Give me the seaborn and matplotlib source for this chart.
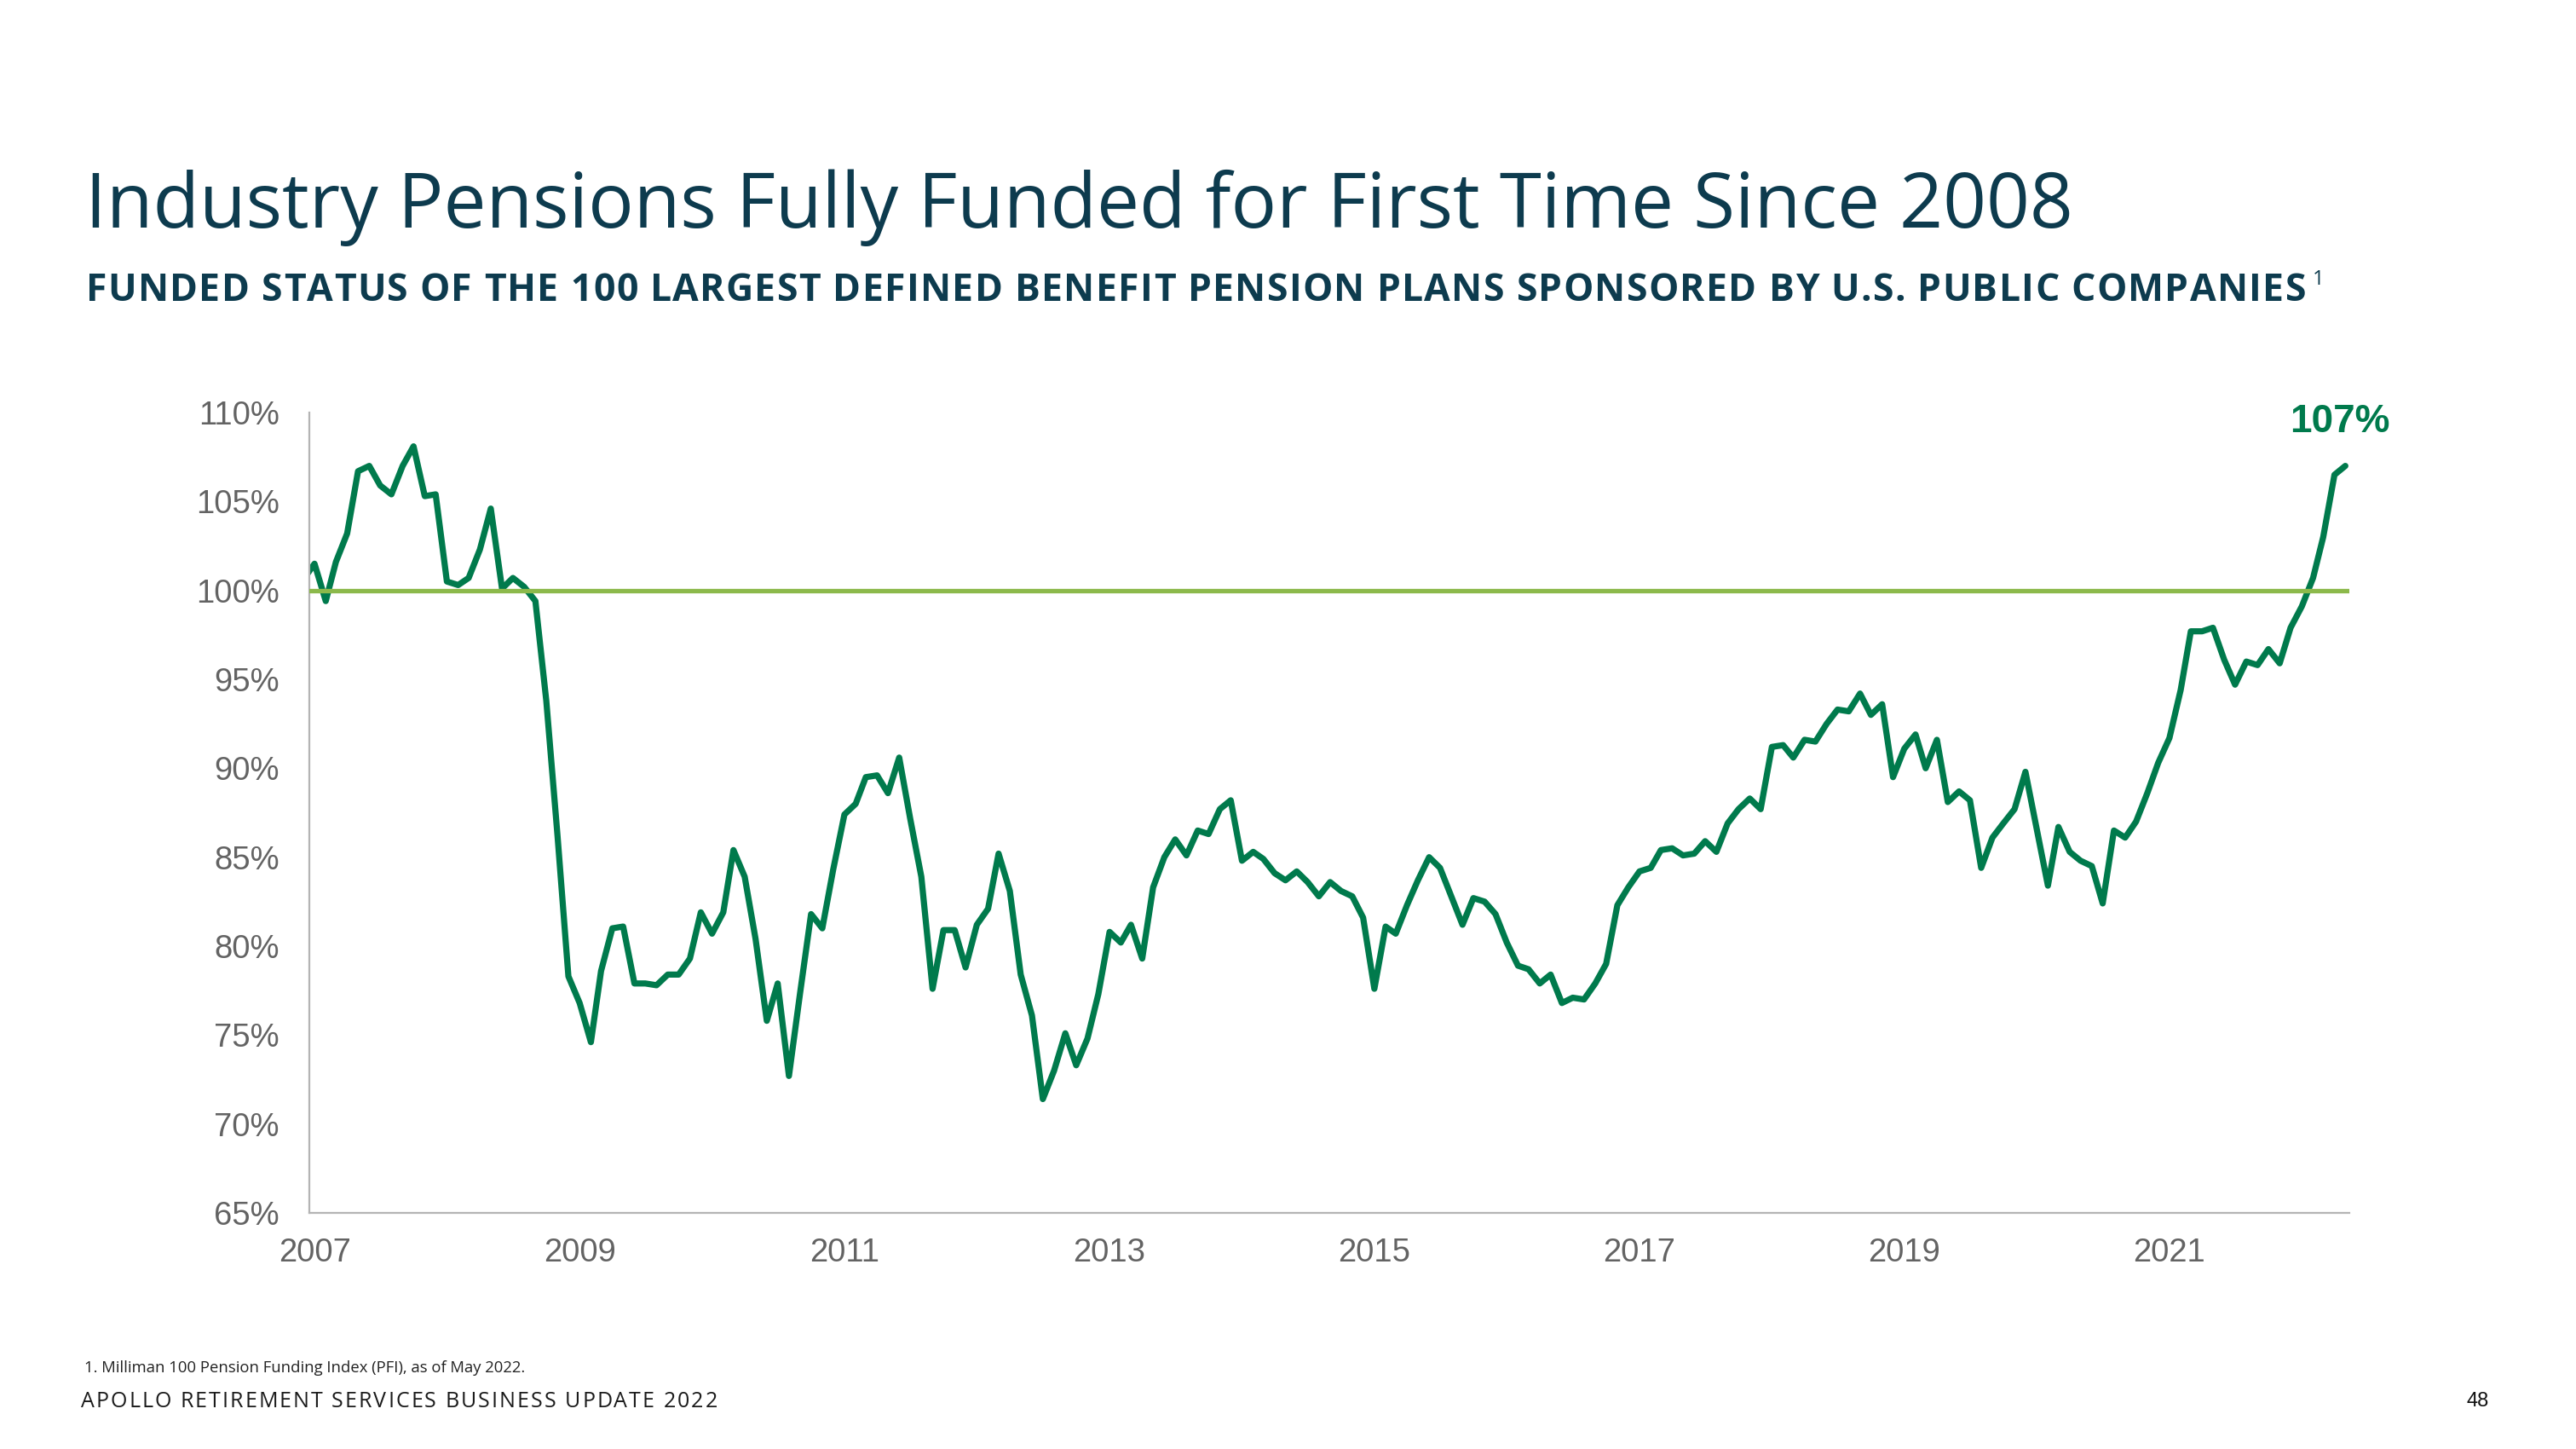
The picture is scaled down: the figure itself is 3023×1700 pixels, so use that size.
import numpy as np
import pandas as pd
import matplotlib
matplotlib.use("Agg")
import matplotlib.pyplot as plt
import matplotlib.dates as mdates
from matplotlib.ticker import FuncFormatter
from matplotlib.font_manager import FontProperties
import seaborn as sns

# ---------------- data ----------------
start_month = "2006-12-01"
funded_pct = [
    100.6,
    101.5, 99.4, 101.6, 103.2, 106.7, 107.0, 105.9, 105.4, 107.0, 108.1, 105.3, 105.4,   # 2007
    100.5, 100.3, 100.7, 102.3, 104.6, 100.1, 100.7, 100.2, 99.4, 93.8, 86.2, 78.3,      # 2008
    76.8, 74.6, 78.6, 81.0, 81.1, 77.9, 77.9, 77.8, 78.4, 78.4, 79.3, 81.9,              # 2009
    80.7, 81.9, 85.4, 83.9, 80.4, 75.8, 77.9, 72.7, 77.4, 81.8, 81.0, 84.3,              # 2010
    87.4, 88.0, 89.5, 89.6, 88.6, 90.6, 87.2, 83.9, 77.6, 80.9, 80.9, 78.8,              # 2011
    81.2, 82.1, 85.2, 83.1, 78.4, 76.1, 71.4, 73.0, 75.1, 73.3, 74.8, 77.3,              # 2012
    80.8, 80.2, 81.2, 79.3, 83.3, 85.0, 86.0, 85.1, 86.5, 86.3, 87.7, 88.2,              # 2013
    84.8, 85.3, 84.9, 84.1, 83.7, 84.2, 83.6, 82.8, 83.6, 83.1, 82.8, 81.6,              # 2014
    77.6, 81.1, 80.7, 82.3, 83.7, 85.0, 84.4, 82.8, 81.2, 82.7, 82.5, 81.8,              # 2015
    80.2, 78.9, 78.7, 77.9, 78.4, 76.8, 77.1, 77.0, 77.9, 79.0, 82.3, 83.3,              # 2016
    84.2, 84.4, 85.4, 85.5, 85.1, 85.2, 85.9, 85.3, 86.9, 87.7, 88.3, 87.7,              # 2017
    91.2, 91.3, 90.6, 91.6, 91.5, 92.5, 93.3, 93.2, 94.2, 93.0, 93.6, 89.5,              # 2018
    91.1, 91.9, 90.0, 91.6, 88.1, 88.7, 88.2, 84.4, 86.1, 86.9, 87.7, 89.8,              # 2019
    86.6, 83.4, 86.7, 85.3, 84.8, 84.5, 82.4, 86.5, 86.1, 87.0, 88.6, 90.3,              # 2020
    91.7, 94.4, 97.7, 97.7, 97.9, 96.1, 94.7, 96.0, 95.8, 96.7, 95.9, 97.9,              # 2021
    99.1, 100.7, 103.0, 106.5, 107.0,                                                    # 2022
]
year_ticks = [2007, 2009, 2011, 2013, 2015, 2017, 2019, 2021]
y_ticks = [65, 70, 75, 80, 85, 90, 95, 100, 105, 110]
full_funding = 100

title = "Industry Pensions Fully Funded for First Time Since 2008"
subtitle = "FUNDED STATUS OF THE 100 LARGEST DEFINED BENEFIT PENSION PLANS SPONSORED BY U.S. PUBLIC COMPANIES"
footnote = "1. Milliman 100 Pension Funding Index (PFI), as of May 2022."
footer = "APOLLO RETIREMENT SERVICES BUSINESS UPDATE 2022"
page_no = "48"

dates = pd.date_range(start_month, periods=len(funded_pct), freq="MS")
df = pd.DataFrame({"date": dates, "funded": funded_pct})

# ---------------- style ----------------
DARK = "#0d3b4e"
GREEN = "#007a4c"
LIGHT = "#8cb94b"
GRAY = "#636363"
SPINE = "#b4b4b4"

sns.set_theme(style="white")
plt.rcParams["font.family"] = ["Liberation Sans", "DejaVu Sans"]

W, H = 3023, 1700
fig = plt.figure(figsize=(W / 100, H / 100), dpi=100)
fig.patch.set_facecolor("white")

ax_l, ax_r, ax_t, ax_b = 362.7, 2757, 484, 1423
ax = fig.add_axes([ax_l / W, 1 - ax_b / H, (ax_r - ax_l) / W, (ax_b - ax_t) / H])

sns.lineplot(data=df, x="date", y="funded", ax=ax, color=GREEN, linewidth=5.2, zorder=2)
ax.axhline(full_funding, color=LIGHT, linewidth=3.8, zorder=3)

ax.set_ylim(65, 110)
ax.set_xlim(pd.Timestamp("2006-12-17"), pd.Timestamp("2022-05-12"))
ax.set_xticks([pd.Timestamp(f"{y}-01-01") for y in year_ticks])
ax.xaxis.set_major_formatter(mdates.DateFormatter("%Y"))
ax.set_yticks(y_ticks)
ax.yaxis.set_major_formatter(FuncFormatter(lambda v, p: f"{v:.0f}%"))
ax.set_xlabel("")
ax.set_ylabel("")
ax.tick_params(axis="both", length=0, labelsize=27.5, labelcolor=GRAY)
ax.tick_params(axis="y", pad=25)
ax.tick_params(axis="x", pad=21)
for s in ["top", "right"]:
    ax.spines[s].set_visible(False)
for s in ["left", "bottom"]:
    ax.spines[s].set_color(SPINE)
    ax.spines[s].set_linewidth(1.6)
ax.grid(False)

# end label
ax.text(df["date"].iloc[-1] - pd.Timedelta(days=15), 109.45, f"{funded_pct[-1]:.0f}%",
        ha="center", va="center", fontsize=33, fontweight="bold", color=GREEN)

# ---------------- page text ----------------
renderer = fig.canvas.get_renderer()
OPEN = ["Open Sans", "DejaVu Sans"]


def fit_text(x, y, s, width, **kw):
    t = fig.text(x / W, 1 - y / H, s, **kw)
    bb = t.get_window_extent(renderer)
    t.set_fontsize(t.get_fontsize() * width / bb.width)
    return t


def _w(s, prop):
    w, h, d = renderer.get_text_width_height_descent(s, prop, ismath=False)
    return w


def spaced_text(x, y, s, width, fontsize, weight="normal", color="k", family=OPEN):
    prop = FontProperties(family=family, size=fontsize, weight=weight)
    base = _w("||", prop)
    adv = [(_w("|" + ch + "|", prop) - base) for ch in s]
    track = (width - sum(adv[:-1]) - _w(s[-1], prop)) / (len(s) - 1)
    cx = x
    for ch, a in zip(s, adv):
        if ch != " ":
            fig.text(cx / W, 1 - y / H, ch, ha="left", va="baseline",
                     fontproperties=prop, color=color)
        cx += a + track
    return cx


fit_text(100, 267, title, 2335, ha="left", va="baseline", fontsize=70,
         color=DARK, family=OPEN)
spaced_text(101, 353, subtitle, 2605, fontsize=32, weight="bold", color=DARK)
fig.text(2714 / W, 1 - 334 / H, "1", ha="left", va="baseline", fontsize=17,
         color=DARK, family=OPEN)
fit_text(99, 1610, footnote, 514, ha="left", va="baseline", fontsize=13,
         color="#222222", family=OPEN)
spaced_text(95, 1651, footer, 747, fontsize=18, weight="normal", color="#1a1a1a")
fig.text(2921 / W, 1 - 1650 / H, page_no, ha="right", va="baseline", fontsize=17,
         color="#111111")

fig.savefig("out.png", dpi=100, facecolor="white")
